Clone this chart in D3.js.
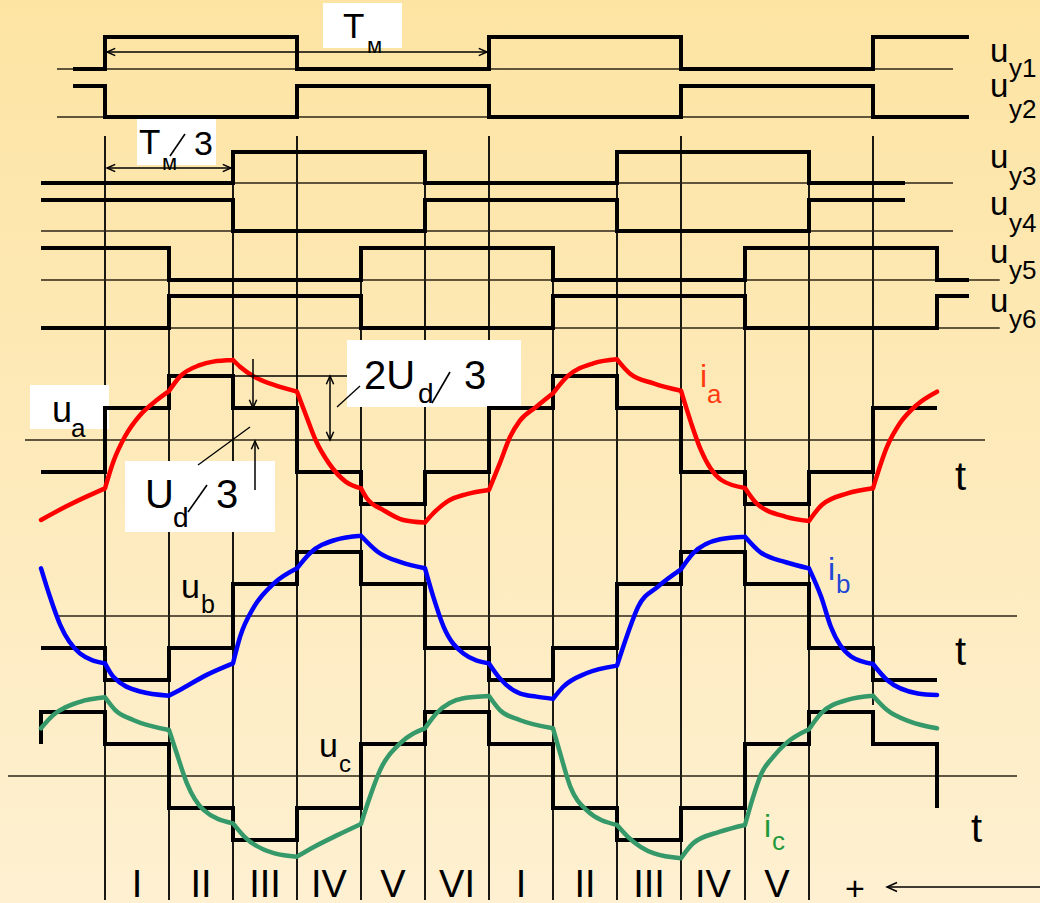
<!DOCTYPE html>
<html><head><meta charset="utf-8">
<script src="https://cdn.jsdelivr.net/npm/d3@7"></script>
<style>body{margin:0;overflow:hidden;background:#fde9b6}svg{display:block}</style>
</head><body>
<svg id="c" width="1040" height="903"></svg>
<script>
// ---------- DATA (time in sectors of T/6, levels in units of Ud/3) ----------
const sectorLabels = ["I","II","III","IV","V","VI","I","II","III","IV","V"];
const signalNames = ["y1","y2","y3","y4","y5","y6"];
const uy1 = [[-0.5,0],[0,1],[3,0],[6,1],[9,0],[12,1],[13.5,1]];
const uy2 = [[-0.5,1],[0,0],[3,1],[6,0],[9,1],[12,0],[13.5,0]];
const uy3 = [[-1,0],[2,1],[5,0],[8,1],[11,0],[12.5,0]];
const uy4 = [[-1,1],[2,0],[5,1],[8,0],[11,1],[12.5,1]];
const uy5 = [[-1,1],[1,0],[4,1],[7,0],[10,1],[13,0],[13.5,0]];
const uy6 = [[-1,0],[1,1],[4,0],[7,1],[10,0],[13,1],[13.5,1]];

const ua = [[-1,-1],[0,1],[1,2],[2,1],[3,-1],[4,-2],[5,-1],[6,1],[7,2],[8,1],[9,-1],[10,-2],[11,-1],[12,1],[13,1]];
const ub = [[-1,-1],[0,-2],[1,-1],[2,1],[3,2],[4,1],[5,-1],[6,-2],[7,-1],[8,1],[9,2],[10,1],[11,-1],[12,-2],[13,-2]];
const uc = [[-1,1],[-1,2],[0,1],[1,-1],[2,-2],[3,-1],[4,1],[5,2],[6,1],[7,-1],[8,-2],[9,-1],[10,1],[11,2],[12,1],[13,1],[13,-1]];

const ia = [[-1,-2.5],[-0.61,-2.08],[-0.29,-1.77],[0,-1.51],
 [0.13,-0.68],[0.31,0.10],[0.55,0.78],[0.81,1.25],[1,1.53],
 [1.17,1.98],[1.48,2.34],[1.69,2.45],[2,2.5],
 [2.11,2.29],[2.33,1.98],[2.64,1.72],[3,1.51],
 [3.13,0.83],[3.29,0],[3.5,-0.73],[3.76,-1.30],[4,-1.51],
 [4.09,-1.82],[4.35,-2.19],[4.66,-2.5],[5,-2.58],
 [5.13,-2.29],[5.34,-1.93],[5.65,-1.69],[6,-1.56],
 [6.17,-0.72],[6.33,0.1],[6.48,0.6],[6.74,1.04],[7,1.46],
 [7.22,1.98],[7.64,2.4],[8,2.52],
 [8.2,2.08],[8.57,1.77],[9,1.54],
 [9.16,0.52],[9.31,-0.31],[9.63,-1.25],[10,-1.5],
 [10.18,-1.98],[10.64,-2.4],[11,-2.53],
 [11.2,-2.03],[11.6,-1.67],[12,-1.51],
 [12.22,-0.21],[12.42,0.52],[12.68,1.09],[13,1.51]];

const ib = [[-1,1.49],[-0.86,0.6],[-0.70,-0.28],[-0.39,-1.17],[0,-1.48],
 [0.13,-1.9],[0.55,-2.36],[1,-2.49],
 [1.17,-2.31],[1.59,-1.84],[2,-1.48],
 [2.11,-0.65],[2.33,0.29],[2.64,1.02],[3,1.49],
 [3.2,1.96],[3.6,2.38],[4,2.51],
 [4.26,2.01],[4.62,1.68],[5,1.49],
 [5.13,0.6],[5.29,-0.33],[5.6,-1.17],[6,-1.48],
 [6.17,-1.95],[6.48,-2.42],[6.74,-2.52],[7,-2.59],
 [7.16,-2.21],[7.52,-1.79],[8,-1.55],
 [8.17,-0.54],[8.33,0.29],[8.64,0.92],[9,1.46],
 [9.19,1.96],[9.61,2.4],[10,2.48],
 [10.23,2.01],[10.64,1.68],[11,1.49],
 [11.19,0.6],[11.34,-0.33],[11.66,-1.27],[12,-1.5],
 [12.22,-2],[12.7,-2.42],[13,-2.47]];

const ic = [[-1,1.49],[-0.81,1.9],[-0.39,2.32],[0,2.46],
 [0.16,2.06],[0.44,1.75],[1,1.44],
 [1.12,0.71],[1.28,-0.23],[1.54,-1.06],[2,-1.48],
 [2.18,-1.9],[2.65,-2.42],[3,-2.52],
 [3.27,-2.21],[3.64,-1.84],[4,-1.5],
 [4.14,-0.65],[4.3,0.19],[4.61,1.02],[5,1.49],
 [5.18,1.96],[5.6,2.43],[6,2.5],
 [6.17,2.06],[6.48,1.75],[7,1.49],
 [7.11,0.72],[7.27,-0.33],[7.52,-1.06],[8,-1.53],
 [8.17,-1.9],[8.58,-2.42],[9,-2.57],
 [9.19,-2.1],[9.61,-1.74],[10,-1.53],
 [10.12,-0.7],[10.25,0.05],[10.44,0.6],[10.64,1.02],[11,1.46],
 [11.19,1.96],[11.6,2.38],[12,2.51],
 [12.22,2.06],[12.58,1.7],[13,1.49]];

// ---------- LAYOUT ----------
const FONT = "'Liberation Sans', Arial, Helvetica, sans-serif";
const svg = d3.select("#c");
const x = d3.scaleLinear().domain([0,12]).range([105,873]);

const rows = [
 {hi:37, lo:69, base:[-0.75,13.25], uY:62, sY:77},
 {hi:86, lo:117,base:[-0.75,13.25], uY:97, sY:118},
 {hi:152,lo:183,base:[-1,13.25],    uY:168,sY:185},
 {hi:200,lo:231,base:[-1,13.25],    uY:215,sY:232},
 {hi:248,lo:280,base:[-1,13.98],    uY:263,sY:279},
 {hi:296,lo:328,base:[-1,13.98],    uY:312,sY:328}
];
const signals = [uy1,uy2,uy3,uy4,uy5,uy6];
const phases = [
 {zero:440, axis:[25,985],  u:ua, i:ia, color:"#ff0000"},
 {zero:616, axis:[58,1017], u:ub, i:ib, color:"#0000ff"},
 {zero:776, axis:[8,1017],  u:uc, i:ic, color:"#35996a"}
];
phases.forEach(p => p.y = d3.scaleLinear().domain([-2,2]).range([p.zero+64, p.zero-64]));

// background
const defs = svg.append("defs");
const g = defs.append("linearGradient").attr("id","bg").attr("x1",0).attr("y1",0).attr("x2",0).attr("y2",1);
g.append("stop").attr("offset","0%").attr("stop-color","#fde4a3");
g.append("stop").attr("offset","100%").attr("stop-color","#fef0d1");
svg.append("rect").attr("width",1040).attr("height",903).attr("fill","url(#bg)");

// partial title glyph at top edge
svg.append("text").attr("x",742).attr("y",-7).attr("font-family",FONT).attr("font-size",34).text("g");

// vertical sector lines
d3.range(0,13).forEach(k => {
  const top = k%3===0 ? 136 : (k%3===2 ? rows[2].hi : rows[4].hi);
  const bot = k===12 ? 705 : 900;
  svg.append("line").attr("x1",x(k)).attr("x2",x(k)).attr("y1",top).attr("y2",bot)
    .attr("stroke","#000").attr("stroke-width",1.8);
});

// white label boxes
const boxes = [[323,3,79,45],[137,117,79,48],[30,385,79,44],[347,340,174,67],[125,461,150,71]];
boxes.forEach(b => svg.append("rect").attr("x",b[0]).attr("y",b[1]).attr("width",b[2]).attr("height",b[3]).attr("fill","#fff"));

// control signals
const stepLine = (ys) => d3.line().x(d=>x(d[0])).y(d=>ys(d[1])).curve(d3.curveStepAfter);
signals.forEach((s,i) => {
  const r = rows[i];
  const ys = d3.scaleLinear().domain([0,1]).range([r.lo,r.hi]);
  svg.append("line").attr("x1",x(r.base[0])).attr("x2",x(r.base[1])).attr("y1",r.lo).attr("y2",r.lo)
    .attr("stroke","#2b2516").attr("stroke-width",1.5);
  svg.append("path").attr("d",stepLine(ys)(s)).attr("fill","none").attr("stroke","#000")
    .attr("stroke-width",4).attr("stroke-linejoin","miter");
  svg.append("text").attr("x",990).attr("y",r.uY).attr("font-family",FONT).attr("font-size",33).text("u");
  svg.append("text").attr("x",1009).attr("y",r.sY).attr("font-family",FONT).attr("font-size",26).text(signalNames[i]);
});

// phase voltages and currents
function splitSectors(data){
  const out=[]; let cur=[data[0]];
  for(let i=1;i<data.length;i++){ cur.push(data[i]); if(Number.isInteger(data[i][0]) && i<data.length-1){ out.push(cur); cur=[data[i]]; } }
  if(cur.length>1) out.push(cur);
  return out;
}
phases.forEach(p => {
  svg.append("line").attr("x1",p.axis[0]).attr("x2",p.axis[1]).attr("y1",p.zero).attr("y2",p.zero)
    .attr("stroke","#2b2516").attr("stroke-width",1.5);
  svg.append("path").attr("d",stepLine(p.y)(p.u)).attr("fill","none").attr("stroke","#000").attr("stroke-width",4);
});
phases.forEach(p => {
  const ln = d3.line().x(d=>x(d[0])).y(d=>p.y(d[1])).curve(d3.curveMonotoneX);
  const dstr = splitSectors(p.i).map(s=>ln(s)).join("");
  svg.append("path").attr("d",dstr).attr("fill","none").attr("stroke",p.color)
    .attr("stroke-width",4.5).attr("stroke-linecap","round").attr("stroke-linejoin","round");
});

// ---------- annotations ----------
function txt(xp,yp,s,fs,col,anchor){
  return svg.append("text").attr("x",xp).attr("y",yp).attr("font-family",FONT).attr("font-size",fs)
    .attr("fill",col||"#000").attr("text-anchor",anchor||"start").text(s);
}
function seg(x1,y1,x2,y2,w){
  svg.append("line").attr("x1",x1).attr("y1",y1).attr("x2",x2).attr("y2",y2).attr("stroke","#000").attr("stroke-width",w||1.5);
}
function chevron(tx,ty,dx,dy,len){
  len = len||9; const a = 0.42;
  const ang = Math.atan2(dy,dx);
  const p1 = [tx - len*Math.cos(ang-a), ty - len*Math.sin(ang-a)];
  const p2 = [tx - len*Math.cos(ang+a), ty - len*Math.sin(ang+a)];
  svg.append("path").attr("d",`M${p1}L${tx},${ty}L${p2}`).attr("fill","none").attr("stroke","#000").attr("stroke-width",1.5);
}
function dblArrowH(x1,x2,y){ seg(x1,y,x2,y); chevron(x1,y,-1,0); chevron(x2,y,1,0); }

// T_M period arrow
dblArrowH(x(0)+2, x(6)-2, 52);
txt(343,38,"T",35); txt(367,53,"м",22);
// T_M/3 arrow
dblArrowH(x(0)+2, x(2)-2, 168);
txt(139,154,"T",35); txt(162,170,"м",22); seg(170,156,185,134,1.6); txt(194,155,"3",34);

// u_a label
txt(52,422,"u",36); txt(71,437,"a",26);
// 2Ud/3
const pa = phases[0];
seg(x(2), pa.y(2), 347, pa.y(2), 1.3);
seg(330, pa.y(2), 330, pa.y(0)); chevron(330,pa.y(2),0,-1); chevron(330,pa.y(0),0,1);
seg(337,407,360,386,1.3);
txt(364,389,"2U",40); txt(418,403,"d",28); seg(432,403,450,372,1.6); txt(464,389,"3",40);
// down arrow to +1 level, up arrow to zero
seg(253,359,253,pa.y(1)); chevron(253,pa.y(1),0,1);
seg(255,490,255,pa.y(0)+1); chevron(255,pa.y(0)+1,0,-1);
// Ud/3
seg(198,465,250,427,1.3);
txt(145,508,"U",40); txt(173,527,"d",28); seg(188,512,207,485,1.6); txt(216,508,"3",40);

// ub, uc labels
txt(181,598,"u",34); txt(201,613,"b",25);
txt(319,757,"u",34); txt(339,772,"c",24);
// current labels
txt(700,387,"i",32,"#ff3a10"); txt(707,403,"a",26,"#ff3a10");
txt(828,580,"i",32,"#1d47d6"); txt(836,593,"b",26,"#1d47d6");
txt(764,837,"i",32,"#1f9a3a"); txt(772,850,"c",26,"#1f9a3a");
// t labels
txt(955,490,"t",40); txt(955,665,"t",40); txt(971,842,"t",40);

// sector numerals
sectorLabels.forEach((s,k) => txt(x(k+0.5), 897, s, 38, "#000", "middle"));

// + and arrow at bottom right
txt(855,900,"+",34,"#000","middle").attr("font-weight",300);
seg(1040,887,887,887); chevron(887,887,-1,0,11);
</script>
</body></html>
